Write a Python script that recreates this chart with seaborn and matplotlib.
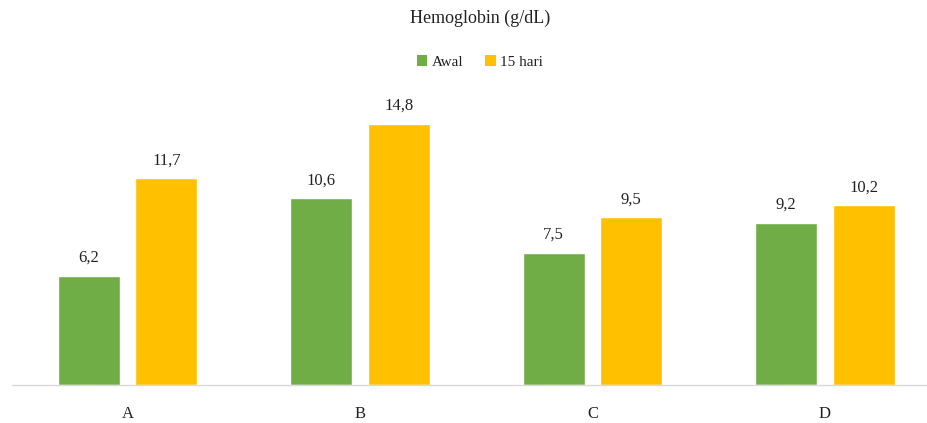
import matplotlib
matplotlib.use("Agg")
import matplotlib.pyplot as plt
import seaborn as sns
import pandas as pd
from matplotlib.patches import Patch

categories = ["A", "B", "C", "D"]
series_names = ["Awal", "15 hari"]
awal = [6.2, 10.6, 7.5, 9.2]
hari15 = [11.7, 14.8, 9.5, 10.2]
colors = ["#70AD47", "#FFC000"]

df = pd.DataFrame({
    "kategori": categories * 2,
    "seri": [series_names[0]] * 4 + [series_names[1]] * 4,
    "nilai": awal + hari15,
})

sns.set_theme(style="white")
plt.rcParams["font.family"] = ["Liberation Serif", "DejaVu Serif"]

W, H = 927, 423
fig = plt.figure(figsize=(W / 100, H / 100), dpi=100)
# axes: left 12px, right 927px, bottom at 385px, top at 80px
ax = fig.add_axes([12 / W, 1 - 385 / H, (927 - 12) / W, (385 - 80) / H])

sns.barplot(data=df, x="kategori", y="nilai", hue="seri", palette=colors,
            width=0.667, gap=0.2, ax=ax, legend=False, saturation=1,
            errorbar=None)

ax.set_xlim(-0.497, 3.439)
ax.set_ylim(0, (385 - 80) / 17.65)

for cont in ax.containers:
    ax.bar_label(cont, labels=[f"{v:.1f}".replace(".", ",") for v in cont.datavalues],
                 padding=7, fontsize=12, color="#222222")

for s in ["left", "right", "top"]:
    ax.spines[s].set_visible(False)
ax.spines["bottom"].set_color("#D9D9D9")
ax.spines["bottom"].set_linewidth(1)
ax.set_yticks([])
ax.set_xlabel("")
ax.set_ylabel("")
ax.tick_params(axis="x", length=0, pad=15, labelsize=12, labelcolor="#222222")

fig.text(480 / W, 1 - 18 / H, "Hemoglobin (g/dL)", ha="center", va="center",
         fontsize=13, color="#222222")

handles = [Patch(facecolor=c, edgecolor="none", label=n) for c, n in zip(colors, series_names)]
fig.legend(handles=handles, loc="center", bbox_to_anchor=(480 / W, 1 - 62 / H), ncol=2,
           frameon=False, fontsize=11, handlelength=0.7, handleheight=0.7,
           handletextpad=0.3, columnspacing=1.4, labelcolor="#222222")

fig.savefig("out.png", dpi=100)
